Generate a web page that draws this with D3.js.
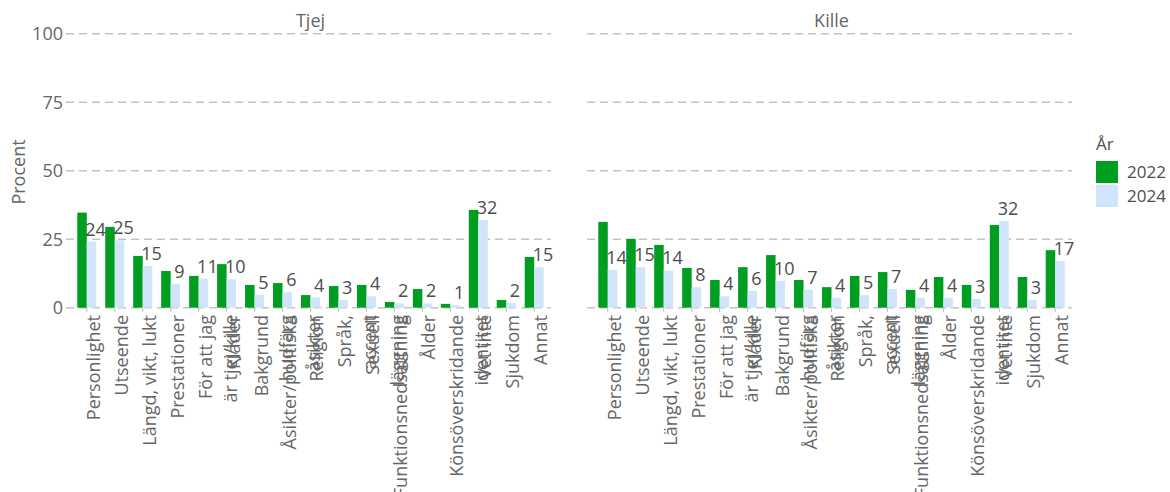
<!DOCTYPE html>
<html>
<head>
<meta charset="utf-8">
<script src="https://cdn.jsdelivr.net/npm/d3@7"></script>
<style>
  body { margin: 0; background: #fff; }
  svg { display: block; }
  text { font-family: "Open Sans", sans-serif; }
</style>
</head>
<body>
<svg id="chart" width="1170" height="492"></svg>
<script>
// kategorier, "\n" = radbrytning i etiketten
const categories = [
    "Personlighet", "Utseende", "Längd, vikt, lukt", "Prestationer",
    "För att jag\när tjej/kille", "Kläder", "Bakgrund\nhudfärg",
    "Åsikter/politiska\nåsikter", "Religion", "Språk,\naccent",
    "Sexuell\nläggning", "Funktionsnedsättning", "Ålder",
    "Könsöverskridande\nidentitet", "Vet inte", "Sjukdom", "Annat"
];
const years = ["2022", "2024"];
const panels = ["Tjej", "Kille"];

const tjej2022 = [34.7, 29.5, 18.9, 13.4, 11.6, 15.9, 8.3, 9.0, 4.6, 7.9, 8.3, 2.1, 6.8, 1.4, 35.7, 2.8, 18.5];
const tjej2024 = [24.1, 24.6, 15.2, 8.7, 10.6, 10.4, 4.7, 5.6, 3.7, 2.8, 4.2, 1.6, 1.6, 0.9, 32.0, 1.7, 14.8];
const kille2022 = [31.3, 25.1, 22.9, 14.5, 10.1, 14.8, 19.2, 10.1, 7.5, 11.6, 13.0, 6.5, 11.2, 8.3, 30.2, 11.2, 21.0];
const kille2024 = [13.8, 14.8, 13.6, 7.5, 4.2, 6.1, 9.8, 6.6, 3.6, 4.6, 6.8, 3.6, 3.6, 3.2, 31.6, 2.8, 17.0];
const yTicks = [0, 25, 50, 75, 100];

const colors = {"2022": "#009e20", "2024": "#d0e5fb"};
const series = {
    "Tjej": {"2022": tjej2022, "2024": tjej2024},
    "Kille": {"2022": kille2022, "2024": kille2024}
};

const svg = d3.select("#chart");
const panelLeft = [70, 591];
const panelWidth = 481;
const yScale = d3.scaleLinear().domain([0, 100]).range([307.7, 33.7]);
const grey = "#666";

// y-axel etiketter + titel
svg.selectAll(".ylab")
    .data(yTicks)
    .join("text")
    .attr("class", "ylab")
    .attr("x", 63)
    .attr("y", d => yScale(d))
    .attr("dy", "0.36em")
    .attr("text-anchor", "end")
    .attr("font-size", 18)
    .attr("fill", grey)
    .text(d => d);

svg.append("text")
    .attr("transform", `translate(25, 172) rotate(-90)`)
    .attr("text-anchor", "middle")
    .attr("font-size", 18)
    .attr("fill", grey)
    .text("Procent");

panels.forEach((p, pi) => {
    const x0 = panelLeft[pi];
    const xScale = d3.scalePoint()
        .domain(categories)
        .range([x0, x0 + panelWidth])
        .padding(0.6);
    const step = xScale.step();
    const bw = step * 0.34;
    const g = svg.append("g");

    // titel
    g.append("text")
        .attr("x", x0 + panelWidth / 2)
        .attr("y", 27)
        .attr("text-anchor", "middle")
        .attr("font-size", 18)
        .attr("fill", grey)
        .text(p);

    // rutnät
    g.selectAll(".grid")
        .data(yTicks)
        .join("line")
        .attr("x1", x0 - 4)
        .attr("x2", x0 + panelWidth)
        .attr("y1", d => yScale(d))
        .attr("y2", d => yScale(d))
        .attr("stroke", "#c4c4c4")
        .attr("stroke-width", 1.5)
        .attr("stroke-dasharray", "8,5");

    // tick marks
    g.selectAll(".tick")
        .data(categories)
        .join("line")
        .attr("x1", d => xScale(d))
        .attr("x2", d => xScale(d))
        .attr("y1", yScale(0))
        .attr("y2", yScale(0) + 4)
        .attr("stroke", "#c4c4c4")
        .attr("stroke-width", 1.2);

    years.forEach((yr, yi) => {
        const vals = series[p][yr];
        g.selectAll(`.bar${yr}`)
            .data(categories)
            .join("rect")
            .attr("x", d => xScale(d) - bw + yi * bw)
            .attr("y", (d, i) => yScale(vals[i]))
            .attr("width", bw)
            .attr("height", (d, i) => yScale(0) - yScale(vals[i]))
            .attr("fill", colors[yr]);
    });

    // värdeetiketter för 2024
    const v24 = series[p]["2024"];
    g.selectAll(".vlab")
        .data(categories)
        .join("text")
        .attr("x", d => xScale(d) + bw / 2 + 4)
        .attr("y", (d, i) => yScale(v24[i]) - 6)
        .attr("text-anchor", "middle")
        .attr("font-family", "'Liberation Sans', Arial, sans-serif")
        .attr("font-size", 18)
        .attr("fill", "#4d4d4d")
        .text((d, i) => d3.format(".0f")(v24[i]));

    // kategorietiketter
    const xl = g.selectAll(".xlab")
        .data(categories)
        .join("text")
        .attr("transform", d => `translate(${xScale(d)}, 315) rotate(-90)`)
        .attr("text-anchor", "end")
        .attr("font-size", 18)
        .attr("fill", grey);
    xl.each(function (d) {
        const lines = d.split("\n");
        d3.select(this).selectAll("tspan")
            .data(lines)
            .join("tspan")
            .attr("x", 0)
            .attr("y", (l, i) => i * 25)
            .attr("dy", "0.72em")
            .text(l => l);
    });
});

// legend
const lg = svg.append("g").attr("transform", "translate(1096, 0)");
lg.append("text")
    .attr("x", 0)
    .attr("y", 150)
    .attr("font-size", 17)
    .attr("fill", "#4d4d4d")
    .text("År");
years.forEach((yr, i) => {
    lg.append("rect")
        .attr("x", 0)
        .attr("y", 161 + i * 24)
        .attr("width", 22)
        .attr("height", 22)
        .attr("fill", colors[yr]);
    lg.append("text")
        .attr("x", 31)
        .attr("y", 172 + i * 24)
        .attr("dy", "0.35em")
        .attr("font-size", 17)
        .attr("fill", "#4d4d4d")
        .text(yr);
});
</script>
</body>
</html>
